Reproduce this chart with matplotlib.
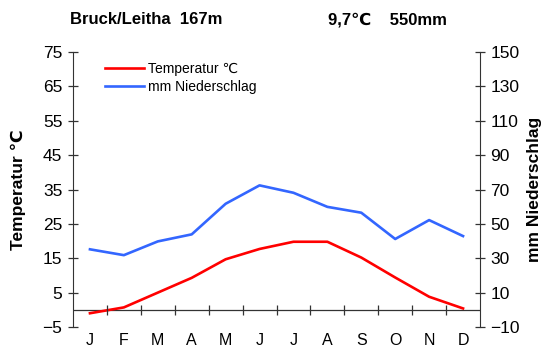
import numpy as np
import matplotlib
matplotlib.use('Agg')
from matplotlib import pyplot as plt

plt.rcParams['font.family'] = ['Liberation Sans', 'DejaVu Sans']

months = ['J', 'F', 'M', 'A', 'M', 'J', 'J', 'A', 'S', 'O', 'N', 'D']
temp = [-1.0, 0.7, 5.0, 9.3, 14.7, 17.7, 19.8, 19.8, 15.2, 9.4, 3.8, 0.4]
rain = [35.2, 31.8, 39.8, 43.9, 61.7, 72.4, 68.1, 59.9, 56.5, 41.2, 52.2, 42.9]
temp_ticks = list(range(-5, 76, 10))
rain_ticks = list(range(-10, 151, 20))

TEMP_C = '#ff0000'
RAIN_C = '#3366ff'
AX_C = '#333333'

fig = plt.figure(figsize=(5.45, 3.47), dpi=100)
ax = fig.add_axes([73 / 545, 20 / 347, 407 / 545, 275 / 347])
ax2 = ax.twinx()

x = np.arange(len(months)) + 0.5
l1, = ax.plot(x, temp, c=TEMP_C, lw=1.9, label='Temperatur \u2103')
l2, = ax2.plot(x, rain, c=RAIN_C, lw=1.9, label='mm Niederschlag')

ax.set_xlim(0, 12)
ax.set_ylim(-5, 75)
ax2.set_ylim(-10, 150)

# zero line with month separators
ax.axhline(0, c=AX_C, lw=0.9, zorder=1)
ax.vlines(np.arange(1, 12), -1.45, 1.45, colors=AX_C, lw=0.9)

for a in (ax, ax2):
    a.spines['top'].set_visible(False)
    a.spines['bottom'].set_visible(False)
    a.spines['left'].set_color(AX_C)
    a.spines['right'].set_color(AX_C)
ax.spines['right'].set_visible(False)
ax2.spines['left'].set_visible(False)

ax.set_xticks(x)
ax.set_xticklabels(months, fontsize=11.5)
ax.tick_params(axis='x', length=0, pad=4)
ax.set_yticks(temp_ticks)
ax.tick_params(axis='y', direction='inout', length=7.2, width=0.9,
               color=AX_C, labelsize=12.5, pad=4)
ax2.set_yticks(rain_ticks)
ax2.tick_params(axis='y', direction='inout', length=7.2, width=0.9,
                color=AX_C, labelsize=12.5, pad=4)

ax.set_ylabel('Temperatur \u2103', fontsize=12.5, fontweight='bold', va='center')
ax2.set_ylabel('mm Niederschlag', fontsize=12.5, fontweight='bold', va='center')
ax.yaxis.set_label_coords(-0.134, 0.5)
ax2.yaxis.set_label_coords(1.135, 0.5)

ax.legend([l1, l2], [l1.get_label(), l2.get_label()], loc='upper left',
          bbox_to_anchor=(0.079, 0.965), frameon=False, fontsize=10,
          borderpad=0, borderaxespad=0, handlelength=2.8,
          handletextpad=0.3, labelspacing=0.3)

fig.text(70 / 545, 1 - 20 / 347, 'Bruck/Leitha  167m', fontsize=12,
         fontweight='bold', va='center', ha='left')
fig.text(328 / 545, 1 - 20 / 347, '9,7\u2103    550mm', fontsize=12,
         fontweight='bold', va='center', ha='left')

fig.savefig('out.png', dpi=100)
